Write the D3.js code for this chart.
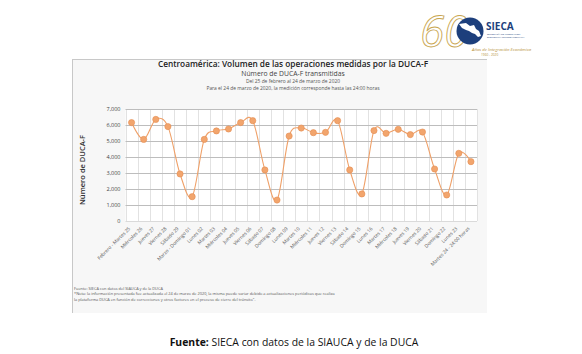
<!DOCTYPE html>
<html><head><meta charset="utf-8">
<script src="https://cdn.jsdelivr.net/npm/d3@7"></script>
<style>
html,body{margin:0;padding:0;background:#fff;}
svg{display:block;}
text{font-family:"Open Sans","Liberation Sans",sans-serif;}
</style></head>
<body>
<svg id="c" width="582" height="354"></svg>
<script>
const categories = ["Febrero - Martes 25","Miércoles 26","Jueves 27","Viernes 28","Sábado 29","Marzo - Domingo 01","Lunes 02","Martes 03","Miércoles 04","Jueves 05","Viernes 06","Sábado 07","Domingo 08","Lunes 09","Martes 10","Miércoles 11","Jueves 12","Viernes 13","Sábado 14","Domingo 15","Lunes 16","Martes 17","Miércoles 18","Jueves 19","Viernes 20","Sábado 21","Domingo 22","Lunes 23","Martes 24 - 24:00 horas"];
const values = [6150,5100,6350,5900,2940,1520,5100,5630,5750,6150,6270,3190,1310,5310,5810,5520,5540,6270,3190,1690,5650,5480,5730,5400,5560,3250,1625,4230,3710];
const yTicks = [0,1000,2000,3000,4000,5000,6000,7000];
const titleLines = ["Centroamérica: Volumen de las operaciones medidas por la DUCA-F","Número de DUCA-F transmitidas","Del 25 de febrero al 24 de marzo de 2020","Para el 24 de marzo de 2020, la medición corresponde hasta las 24:00 horas"];
const notes = ["Fuente: SIECA con datos del SIAUCA y de la DUCA","*Nota: la información presentada fue actualizada el 24 de marzo de 2020, la misma puede variar debido a actualizaciones periódicas que realiza","la plataforma DUCA en función de correcciones y otros factores en el proceso de cierre del tránsito\"."];

const svg = d3.select("#c");

// panel
svg.append("rect").attr("x",72).attr("y",59).attr("width",415).attr("height",254).attr("fill","#f7f7f7");
svg.append("line").attr("x1",72.5).attr("x2",72.5).attr("y1",59).attr("y2",313).attr("stroke","#c8c8c8");
svg.append("line").attr("x1",72).attr("x2",487).attr("y1",59.5).attr("y2",59.5).attr("stroke","#c8c8c8");

// titles
const tSizes=[8.3,6.8,4.9,4.9], tY=[67,75.5,83,90], tCol=["#222","#444","#555","#555"];
titleLines.forEach((t,i)=>svg.append("text").attr("x",293).attr("y",tY[i]).attr("text-anchor","middle")
  .attr("font-size",tSizes[i]).attr("fill",tCol[i]).attr("font-weight",i==0?600:400).text(t));

const x = d3.scaleBand().domain(categories).range([125.5,477]);
const y = d3.scaleLinear().domain([0,7000]).range([221,109]);

svg.append("rect").attr("x",125.5).attr("y",109).attr("width",351.5).attr("height",112).attr("fill","#fff");

// vertical grid
const vg = svg.append("g");
categories.forEach((c,i)=>{
  vg.append("line").attr("x1",Math.round(x(c))+0.5).attr("x2",Math.round(x(c))+0.5).attr("y1",109).attr("y2",221).attr("stroke","#e2e2e2");
});
vg.append("line").attr("x1",477.5).attr("x2",477.5).attr("y1",109).attr("y2",221).attr("stroke","#e2e2e2");

// y axis with grid
const ya = svg.append("g").attr("transform","translate(125.5,0)")
  .call(d3.axisLeft(y).tickValues(yTicks).tickFormat(d3.format(",")).tickSize(-351.5).tickPadding(5));
ya.select(".domain").remove();
ya.selectAll(".tick line").attr("stroke",d=>d==0?"#dadada":"#bdbdbd");
ya.selectAll(".tick text").attr("font-size",5.5).attr("fill","#444").attr("font-family","'Open Sans',sans-serif");

// x axis labels
const xa = svg.append("g").attr("transform","translate(0,221)")
  .call(d3.axisBottom(x).tickSize(0).tickPadding(0));
xa.select(".domain").remove();
xa.selectAll(".tick text").attr("font-size",4.8).attr("fill","#555").attr("font-family","'Open Sans',sans-serif")
  .attr("text-anchor","end").attr("dy",0).attr("y",0).attr("transform","translate(-1,8) rotate(-45)");

// y title
svg.append("text").attr("transform","translate(85,170) rotate(-90)").attr("text-anchor","middle")
  .attr("font-size",7.5).attr("fill","#333").attr("font-weight",600).text("Número de  DUCA-F");

// line
const cx = d=>x(d)+x.bandwidth()/2;
const line = d3.line().x((d,i)=>cx(categories[i])).y(d=>y(d)).curve(d3.curveCatmullRom.alpha(0));
svg.append("path").datum(values).attr("d",line).attr("fill","none").attr("stroke","#efa068").attr("stroke-width",1.1);
svg.append("g").selectAll("circle").data(values).join("circle")
  .attr("cx",(d,i)=>cx(categories[i])).attr("cy",d=>y(d)).attr("r",3.1)
  .attr("fill","#f2a56d").attr("stroke","#e48d52").attr("stroke-width",0.6);

// notes
const nY=[289.5,295,300.5];
notes.forEach((t,i)=>svg.append("text").attr("x",74).attr("y",nY[i]).attr("font-size",3.9).attr("fill","#555").text(t));

// bottom caption
const cap = svg.append("text").attr("x",294).attr("y",345.5).attr("text-anchor","middle").attr("font-size",10.4)
  .attr("fill","#111").attr("font-family","'Liberation Sans',sans-serif");
cap.append("tspan").attr("font-weight","bold").text("Fuente: ");
cap.append("tspan").text("SIECA con datos de la SIAUCA y de la DUCA");

// logo
const lg = svg.append("g");
lg.append("text").attr("x",420).attr("y",47).attr("font-size",44).attr("font-style","italic")
  .attr("font-family","'DejaVu Serif',serif").attr("fill","none").attr("stroke","#c9a650").attr("stroke-width",0.9).text("60");
lg.append("circle").attr("cx",470).attr("cy",31).attr("r",13.5).attr("fill","#1d3f7c");
lg.append("path").attr("fill","#fff")
  .attr("d","M459,24 L466,23 L470,26 L474,25 L476,29 L479,31 L481,36 L478,37 L475,34 L472,33 L469,31 L466,30 L462,28 Z");
lg.append("text").attr("x",486).attr("y",29.5).attr("font-size",10).attr("font-weight","bold").attr("fill","#1d3f7c")
  .attr("font-family","'Liberation Sans',sans-serif").text("SIECA");
lg.append("text").attr("x",487).attr("y",35).attr("font-size",2.4).attr("fill","#1d3f7c").text("SECRETARÍA DE INTEGRACIÓN");
lg.append("text").attr("x",487).attr("y",38).attr("font-size",2.4).attr("fill","#1d3f7c").text("ECONÓMICA CENTROAMERICANA");
lg.append("text").attr("x",472).attr("y",51).attr("font-size",4.3).attr("font-style","italic").attr("fill","#b8923c")
  .attr("font-family","'DejaVu Serif',serif").text("Años de Integración Económica");
lg.append("text").attr("x",481).attr("y",56).attr("font-size",3.2).attr("fill","#b8923c").text("1960 - 2020");
</script>
</body></html>
